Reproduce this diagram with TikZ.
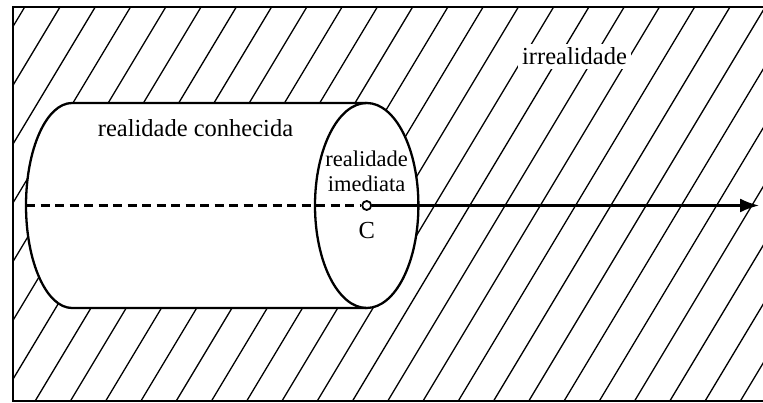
\documentclass[tikz,border=0pt]{standalone}
\usepackage{fontspec}
\setmainfont{Liberation Serif}
\usetikzlibrary{arrows.meta}
\begin{document}
\begin{tikzpicture}[x=1pt,y=1pt,
  frameline/.style={line width=2pt},
  hatchline/.style={line width=1.3pt},
  bodyline/.style={line width=2.3pt},
  bigtext/.style={font=\fontsize{24.5}{28}\selectfont, inner sep=0pt, anchor=base},
  smalltext/.style={font=\fontsize{22.5}{25}\selectfont, inner sep=0pt, anchor=base},
  axisline/.style={line width=2.2pt},
  pointmark/.style={circle, draw, line width=1.8pt, fill=white, minimum size=9pt, inner sep=0pt}]
\useasboundingbox (0,0) rectangle (763,403);
% hatching
\begin{scope}
  \clip (13,1.5) rectangle (775,396);
  \foreach \k in {-2,...,30}
    \draw[hatchline] ({60+35.26*\k-237.6},0) -- ++(241.8,403);
\end{scope}
% frame (right side is cut off)
\draw[frameline] (775,396) -- (13,396) -- (13,1.5) -- (775,1.5);
% cylinder interior
\fill[white] (366.7,300) -- (72,300) arc[start angle=90, end angle=270, x radius=46pt, y radius=102.5pt] -- (366.7,95) -- cycle;
\fill[white] (366.7,197.5) ellipse[x radius=51.7pt, y radius=102.5pt];
% labels
\node[bigtext, fill=white, inner sep=4pt] (irr) at (574.5,338) {irrealidade};
\node[bigtext] (conh) at (195.5,266) {realidade conhecida};
\node[smalltext] (real) at (366.7,236.3) {realidade};
\node[smalltext] (imed) at (366.7,211.3) {imediata};
\node[bigtext] (clab) at (366.7,164) {C};
% cylinder outline
\draw[bodyline] (366.7,300) -- (72,300) arc[start angle=90, end angle=270, x radius=46pt, y radius=102.5pt] -- (366.7,95);
\draw[bodyline] (366.7,197.5) ellipse[x radius=51.7pt, y radius=102.5pt];
% axis
\coordinate (L) at (26,197.5);
\coordinate (R) at (759,197.5);
\node[pointmark] (C) at (366.7,197.5) {};
\draw[axisline, dash pattern=on 9pt off 5.5pt] (L) -- (C);
\draw[axisline, -{Latex[length=19pt, width=14pt]}] (C) -- (R);
\end{tikzpicture}
\end{document}
